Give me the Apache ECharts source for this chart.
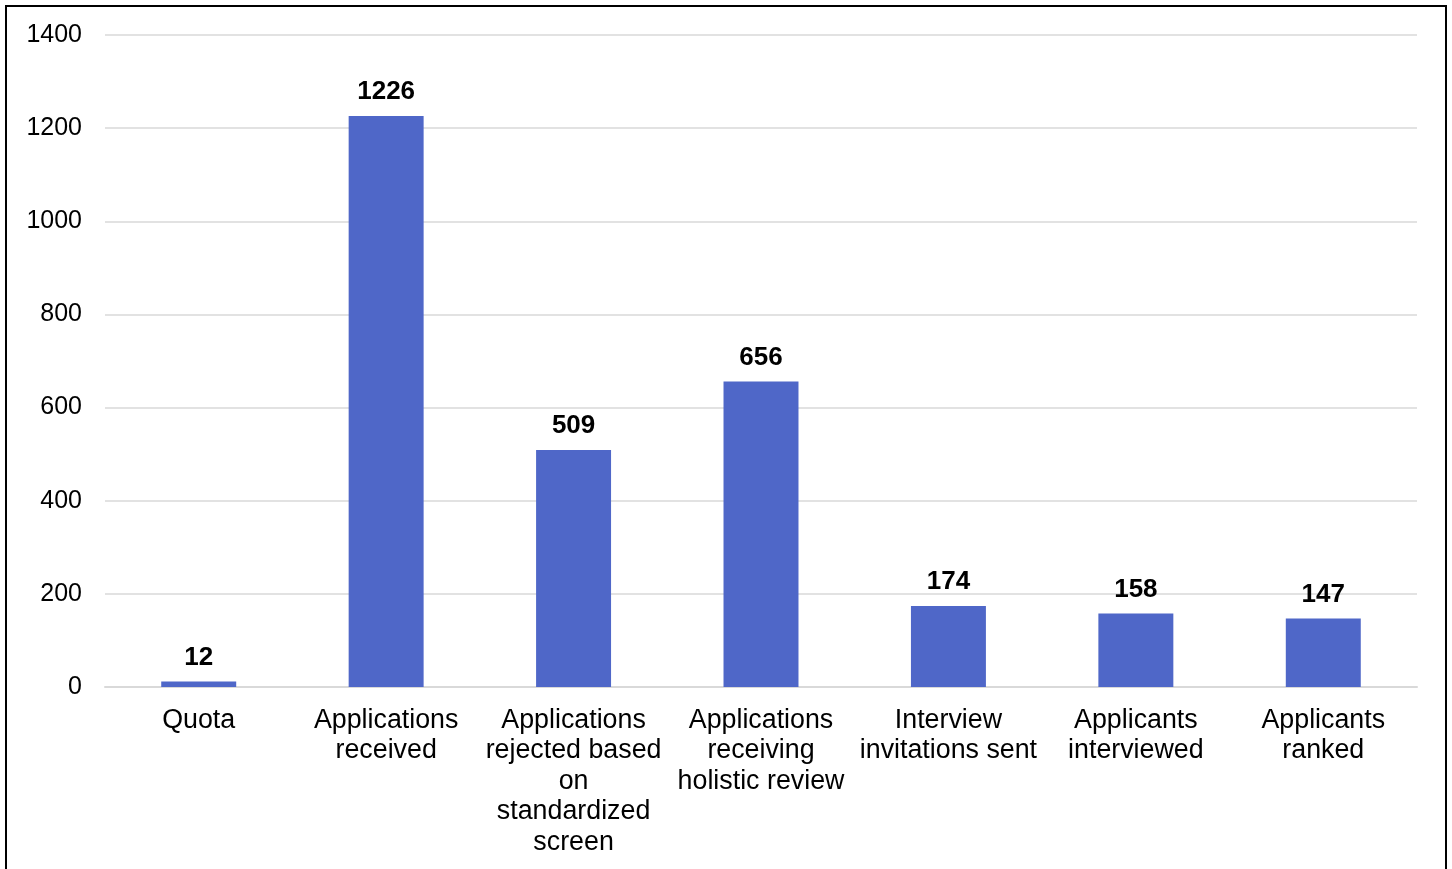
<!DOCTYPE html>
<html>
<head>
<meta charset="utf-8">
<script src="https://cdn.jsdelivr.net/npm/echarts@6/dist/echarts.min.js"></script>
<style>
  html, body { margin: 0; padding: 0; background: #fff; }
  #chart { width: 1452px; height: 869px; }
</style>
</head>
<body>
<div id="chart"></div>
<script>
// categories on the x axis
const stages = [
  'Quota',
  'Applications\nreceived',
  'Applications\nrejected based\non\nstandardized\nscreen',
  'Applications\nreceiving\nholistic review',
  'Interview\ninvitations sent',
  'Applicants\ninterviewed',
  'Applicants\nranked'
];
// counts per stage
const counts = [12, 1226, 509, 656, 174, 158, 147];

const chart = echarts.init(document.getElementById('chart'));
const font = 'Liberation Sans, Arial, sans-serif';

chart.setOption({
  backgroundColor: '#fff',
  animation: false,
  graphic: [{
    type: 'rect',
    shape: { x: 6, y: 6, width: 1440, height: 900 },
    style: { fill: 'none', stroke: '#000', lineWidth: 2 },
    silent: true
  }],
  grid: { left: 105, right: 35, top: 35, bottom: 182 },
  xAxis: {
    type: 'category',
    data: stages,
    axisLine: { lineStyle: { color: '#d9d9d9', width: 2 } },
    axisTick: { show: false },
    axisLabel: {
      interval: 0,
      color: '#000',
      fontFamily: font,
      fontSize: 26.8,
      lineHeight: 30.6,
      margin: 18
    }
  },
  yAxis: {
    type: 'value',
    min: 0,
    max: 1400,
    interval: 200,
    axisLine: { show: false },
    axisTick: { show: false },
    axisLabel: {
      color: '#000', fontFamily: font, fontSize: 25, margin: 23,
      formatter: v => String(v)
    },
    splitLine: { lineStyle: { color: '#d9d9d9', width: 1.5 } }
  },
  series: [{
    type: 'bar',
    data: counts,
    barWidth: '40%',
    itemStyle: { color: '#4f67c8' },
    label: {
      show: true,
      position: 'top',
      distance: 11,
      color: '#000',
      fontWeight: 'bold',
      fontFamily: font,
      fontSize: 26
    }
  }]
});
</script>
</body>
</html>
